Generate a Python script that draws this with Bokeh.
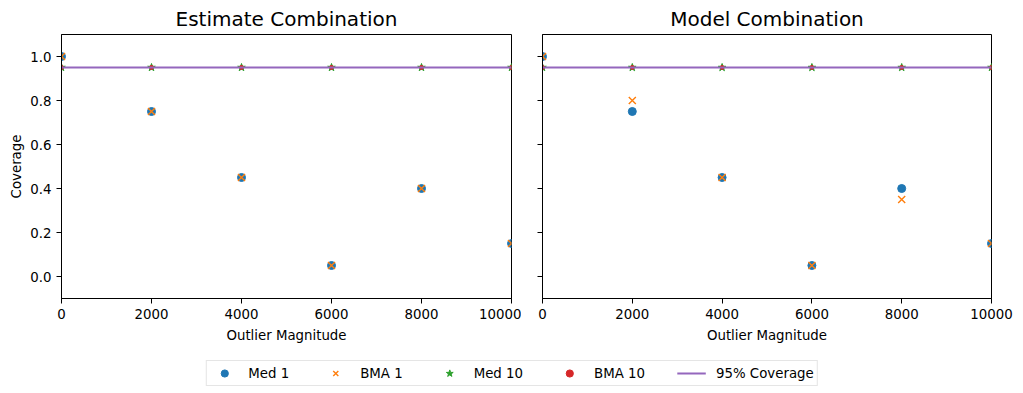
from bokeh.plotting import figure
from bokeh.layouts import column, row
from bokeh.models import (FixedTicker, NumeralTickFormatter, CustomJSTickFormatter,
                          Legend, LegendItem, ColumnDataSource)
from bokeh.embed import file_html
from bokeh.resources import INLINE

# ---- data ----
magnitudes = [0, 2000, 4000, 6000, 8000, 10000]

est_med1 = [1.00, 0.75, 0.45, 0.05, 0.40, 0.15]
est_bma1 = [1.00, 0.75, 0.45, 0.05, 0.40, 0.15]
est_med10 = [0.95, 0.95, 0.95, 0.95, 0.95, 0.95]
est_bma10 = [0.95, 0.95, 0.95, 0.95, 0.95, 0.95]

mod_med1 = [1.00, 0.75, 0.45, 0.05, 0.40, 0.15]
mod_bma1 = [1.00, 0.80, 0.45, 0.05, 0.35, 0.15]
mod_med10 = [0.95, 0.95, 0.95, 0.95, 0.95, 0.95]
mod_bma10 = [0.95, 0.95, 0.95, 0.95, 0.95, 0.95]

coverage_level = [0.95, 0.95, 0.95, 0.95, 0.95, 0.95]

x_ticks = [0, 2000, 4000, 6000, 8000, 10000]
y_ticks = [0.0, 0.2, 0.4, 0.6, 0.8, 1.0]

titles = ["Estimate Combination", "Model Combination"]
series_labels = ["Med 1", "BMA 1", "Med 10", "BMA 10", "95% Coverage"]

C_BLUE = "#1f77b4"
C_ORANGE = "#ff7f0e"
C_GREEN = "#2ca02c"
C_RED = "#d62728"
C_PURPLE = "#9467bd"
FONT = "DejaVu Sans"
FS = "13.33px"


def make_panel(title, med1, bma1, med10, bma10, left_border, right_border, show_ylabels):
    p = figure(frame_width=450 if show_ylabels else 449, frame_height=264,
               x_range=(0, 10000), y_range=(-0.1, 1.1),
               min_border_left=left_border, min_border_right=right_border,
               min_border_top=34, min_border_bottom=46,
               toolbar_location=None, output_backend="svg", title=title)
    p.title.align = "center"
    p.title.text_font = FONT
    p.title.text_font_size = "20px"
    p.title.text_font_style = "normal"
    p.title.text_color = "black"
    p.title.standoff = 7
    p.xgrid.visible = False
    p.ygrid.visible = False
    p.outline_line_color = "black"
    p.outline_line_alpha = 1.0
    p.outline_line_width = 1
    for ax in (p.xaxis[0], p.yaxis[0]):
        ax.axis_line_color = "black"
        ax.major_tick_line_color = "black"
        ax.major_tick_out = 5
        ax.major_tick_in = 0
        ax.minor_tick_out = 0
        ax.minor_tick_in = 0
        ax.major_label_text_font = FONT
        ax.major_label_text_font_size = FS
        ax.major_label_text_color = "black"
        ax.axis_label_text_font = FONT
        ax.axis_label_text_font_size = FS
        ax.axis_label_text_font_style = "normal"
        ax.axis_label_text_color = "black"
    p.xaxis.major_label_standoff = 5
    p.yaxis.major_label_standoff = 5
    p.xaxis.ticker = FixedTicker(ticks=x_ticks)
    p.yaxis.ticker = FixedTicker(ticks=y_ticks)
    p.xaxis.axis_label = "Outlier Magnitude"
    p.xaxis.axis_label_standoff = 6
    if show_ylabels:
        p.yaxis.formatter = NumeralTickFormatter(format="0.0")
        p.yaxis.axis_label = "Coverage"
        p.yaxis.axis_label_standoff = 3
    else:
        p.yaxis.formatter = CustomJSTickFormatter(code="return ''")

    src = ColumnDataSource(dict(x=magnitudes, med1=med1, bma1=bma1,
                                med10=med10, bma10=bma10, cov=coverage_level))
    p.scatter("x", "med1", source=src, marker="circle", size=8, color=C_BLUE)
    p.scatter("x", "bma1", source=src, marker="x", size=10, color=C_ORANGE, line_width=1.4)
    p.scatter("x", "med10", source=src, marker="star", size=8, color=C_GREEN)
    p.scatter("x", "bma10", source=src, marker="circle", size=4, color=C_RED)
    p.line("x", "cov", source=src, color=C_PURPLE, line_width=2)
    return p


p1 = make_panel(titles[0], est_med1, est_bma1, est_med10, est_bma10, 61, 10, True)
p2 = make_panel(titles[1], mod_med1, mod_bma1, mod_med10, mod_bma10, 21, 32, False)

# ---- legend strip ----
lf = figure(width=1023, height=41, x_range=(0, 1), y_range=(0, 1),
            toolbar_location=None, output_backend="svg", min_border=0)
lf.xaxis.visible = False
lf.yaxis.visible = False
lf.xgrid.visible = False
lf.ygrid.visible = False
lf.outline_line_color = None
nan = float("nan")
lsrc = ColumnDataSource(dict(x=[nan, nan], y=[nan, nan]))
r1 = lf.scatter("x", "y", source=lsrc, marker="circle", size=8, color=C_BLUE)
r2 = lf.scatter("x", "y", source=lsrc, marker="x", size=8, color=C_ORANGE, line_width=1.4)
r3 = lf.scatter("x", "y", source=lsrc, marker="star", size=8, color=C_GREEN)
r4 = lf.scatter("x", "y", source=lsrc, marker="circle", size=4, color=C_RED)
r5 = lf.line("x", "y", source=lsrc, color=C_PURPLE, line_width=2)
items = [LegendItem(label=lab, renderers=[r]) for lab, r in zip(series_labels, [r1, r2, r3, r4, r5])]
legend = Legend(items=items, orientation="horizontal", location="top_center",
                margin=15, padding=3, spacing=32, glyph_width=29, glyph_height=18,
                label_height=18, label_standoff=10,
                label_text_font=FONT, label_text_font_size=FS, label_text_color="black",
                border_line_color="#cccccc", border_line_width=1,
                background_fill_alpha=0.8)
lf.add_layout(legend, "center")

layout = column(row(p1, p2), lf)
open("out.html", "w").write(file_html(layout, INLINE))
